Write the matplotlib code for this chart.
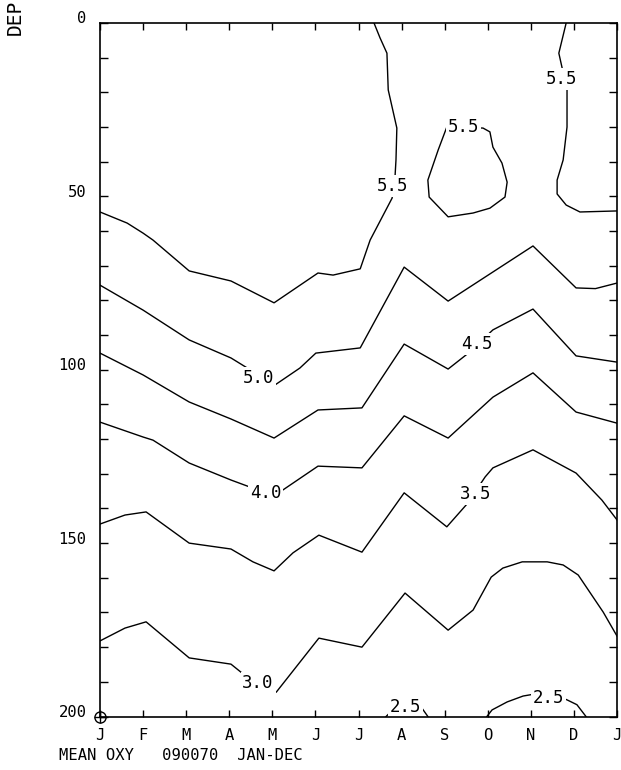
import matplotlib
matplotlib.use("Agg")
import matplotlib.pyplot as plt
import matplotlib.transforms as mtransforms
import numpy as np

plt.rcParams['font.family'] = ['DejaVu Sans Mono', 'DejaVu Sans']

# month axis: 0 = Jan ... 12 = Jan (next year)
months = ['J', 'F', 'M', 'A', 'M', 'J', 'J', 'A', 'S', 'O', 'N', 'D', 'J']
depth_ticks = [0, 50, 100, 150, 200]

# isolines of mean oxygen, (month position, depth)
c55a_m = [0, 0.63, 1.0, 1.23, 2.07, 3.04, 4.04, 5.06, 5.41, 6.04, 6.27, 6.78, 6.85, 6.87, 6.89, 6.69, 6.66, 6.50, 6.36]
c55a_d = [54.5, 57.7, 60.6, 62.6, 71.5, 74.4, 80.7, 72.1, 72.7, 70.9, 62.6, 50.5, 43.8, 39.5, 30.3, 19.3, 8.7, 4.3, 0]

c55b_m = [10.82, 10.65, 10.84, 10.84, 10.75, 10.61, 10.61, 10.82, 11.14, 12.0]
c55b_d = [0, 8.7, 19.3, 30.0, 39.5, 45.3, 49.3, 52.5, 54.5, 54.2]

c55c_m = [8.05, 7.85, 7.61, 7.64, 8.08, 8.66, 9.05, 9.40, 9.45, 9.33, 9.12, 9.05, 8.89, 8.05]
c55c_d = [30.0, 36.6, 45.3, 50.2, 55.9, 54.8, 53.4, 50.2, 45.9, 40.4, 35.8, 31.4, 30.3, 30.0]

c50_m = [0, 1.0, 2.07, 3.04, 4.06, 4.64, 5.01, 6.04, 7.06, 8.08, 10.05, 11.05, 11.5, 12]
c50_d = [75.6, 82.8, 91.4, 96.6, 104.4, 99.5, 95.2, 93.7, 70.4, 80.2, 64.3, 76.4, 76.6, 75.0]

c45_m = [0, 1.0, 2.07, 3.04, 4.04, 5.06, 6.08, 7.06, 8.08, 8.52, 9.12, 10.05, 11.05, 12]
c45_d = [95.2, 101.5, 109.3, 114.2, 119.7, 111.6, 111.0, 92.6, 99.8, 95.5, 88.5, 82.5, 96.0, 97.8]

c40_m = [0, 1.0, 1.23, 2.07, 3.04, 4.04, 5.06, 6.08, 7.06, 8.08, 9.12, 10.05, 11.05, 12]
c40_d = [115.1, 119.4, 120.3, 126.9, 131.8, 136.4, 127.8, 128.3, 113.3, 119.7, 107.9, 100.9, 112.2, 115.4]

c35_m = [0, 0.58, 1.07, 2.07, 3.04, 3.55, 4.04, 4.48, 5.08, 6.08, 7.06, 8.05, 8.52, 8.94, 9.12, 10.05, 11.05, 11.65, 12]
c35_d = [144.5, 141.9, 141.0, 150.0, 151.7, 155.4, 158.0, 152.8, 147.7, 152.6, 135.5, 145.3, 138.7, 130.9, 128.3, 123.1, 129.8, 137.6, 143.3]

c30_m = [0, 0.58, 1.07, 2.07, 3.04, 3.30, 4.09, 5.08, 6.08, 7.08, 8.08, 8.66, 9.08, 9.35, 9.80, 10.38, 10.75, 11.10, 11.68, 12]
c30_d = [178.2, 174.5, 172.7, 183.1, 184.9, 187.5, 193.0, 177.4, 180.0, 164.4, 175.1, 169.3, 159.8, 157.2, 155.4, 155.4, 156.3, 159.2, 169.9, 176.8]

c25a_m = [6.64, 6.87, 7.34, 7.45, 7.61]
c25a_d = [200, 197.2, 196.6, 197.2, 200]

c25b_m = [8.98, 9.10, 9.45, 9.82, 10.10, 10.56, 10.84, 11.07, 11.28]
c25b_d = [200, 198.1, 195.8, 194.1, 193.5, 193.8, 195.2, 196.6, 200]

lines = [(c55a_m, c55a_d), (c55b_m, c55b_d), (c55c_m, c55c_d), (c50_m, c50_d),
         (c45_m, c45_d), (c40_m, c40_d), (c35_m, c35_d), (c30_m, c30_d),
         (c25a_m, c25a_d), (c25b_m, c25b_d)]

# contour labels: text, month position, depth
labels = [('5.5', 6.78, 47.0), ('5.5', 10.72, 16.2), ('5.5', 8.43, 30.0),
          ('5.0', 3.67, 102.4), ('4.5', 8.75, 92.6), ('4.0', 3.85, 135.5),
          ('3.5', 8.73, 135.8), ('3.0', 3.67, 190.3), ('2.5', 7.08, 197.3),
          ('2.5', 10.42, 194.8)]

fig = plt.figure(figsize=(6.21, 7.70), dpi=100)
ax = fig.add_axes([100 / 621, (770 - 716.5) / 770, 517 / 621, (716.5 - 23) / 770])

for m, d in lines:
    ax.plot(m, d, color='black', lw=1.0, zorder=2)

for txt, m, d in labels:
    ax.text(m, d, txt, fontsize=12.5, ha='center', va='center', zorder=3,
            bbox=dict(fc='white', ec='none', pad=1.2))

ax.set_xlim(0, 12)
ax.set_ylim(200, 0)
ax.set_xticks(range(13))
ax.set_xticklabels(months)
ax.set_yticks(depth_ticks)
ax.set_yticks(range(0, 201, 10), minor=True)

ax.tick_params(axis='y', which='both', direction='in', length=6, width=1,
               left=True, right=True, labelsize=11.2, pad=9.5)
ax.tick_params(axis='x', direction='in', length=5, width=1,
               top=True, bottom=True, labelsize=11.2, pad=8.3)

# depth labels sit just above their tick
shift = mtransforms.ScaledTranslation(0, -2.5 / 72, fig.dpi_scale_trans)
for lab in ax.get_yticklabels():
    lab.set_va('bottom')
    lab.set_transform(lab.get_transform() + shift)

for sp in ax.spines.values():
    sp.set_linewidth(1.2)
    sp.set_zorder(4)

# origin marker
ax.plot([0], [200], marker='o', ms=8, mfc='none', mec='black', mew=1.0, clip_on=False, zorder=5)
ax.plot([0], [200], marker='+', ms=8, color='black', mew=1.0, clip_on=False, zorder=5)

fig.text(15 / 621, 1.0, 'DEP', rotation=90, fontsize=14, ha='center', va='top')
fig.text(59 / 621, 1 - 755 / 770, 'MEAN OXY   090070  JAN-DEC', fontsize=11.2,
         ha='left', va='center')

fig.savefig('out.png', dpi=100)
